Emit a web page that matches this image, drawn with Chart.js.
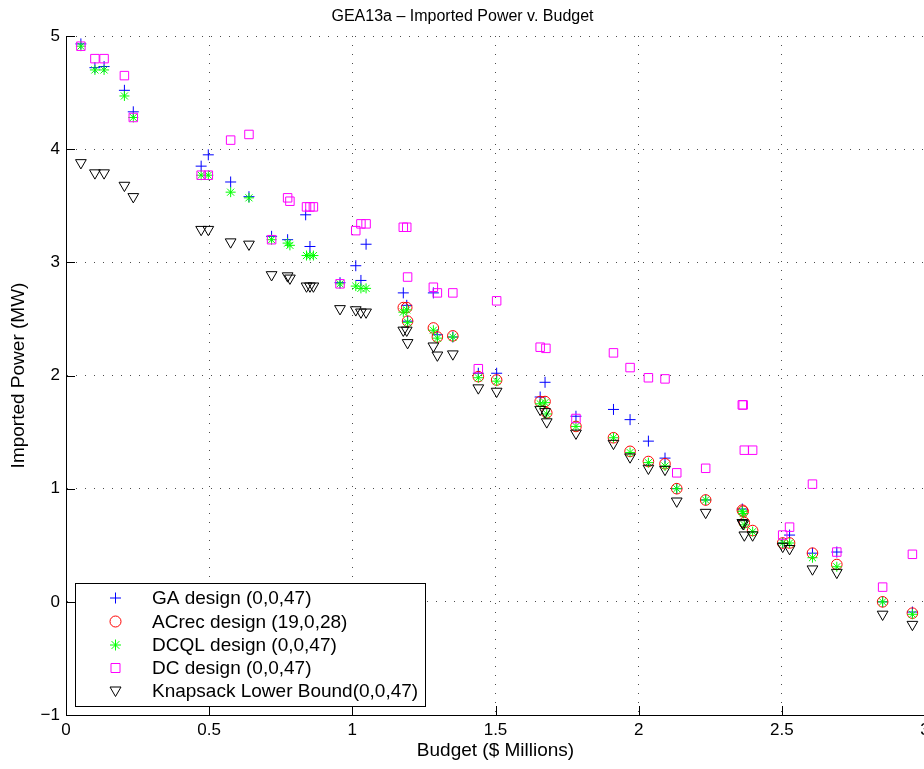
<!DOCTYPE html>
<html>
<head>
<meta charset="utf-8">
<title>GEA13a - Imported Power v. Budget</title>
<script src="https://cdn.jsdelivr.net/npm/chart.js@4.4.1/dist/chart.umd.min.js"></script>
<style>
    html, body { margin: 0; padding: 0; background: #fff; overflow: hidden; }
    #wrap { width: 940px; height: 769px; }
</style>
</head>
<body>
<div id="wrap"><canvas id="myChart" width="940" height="769"></canvas></div>
<script>
// data (budget in $ millions, power in MW)
const budgetAll = [0.052, 0.101, 0.133, 0.204, 0.235, 0.472, 0.497, 0.575, 0.639, 0.718,
    0.774, 0.782, 0.840, 0.852, 0.864, 0.957, 1.012, 1.030, 1.048, 1.178,
    1.190, 1.193, 1.283, 1.297, 1.351, 1.440, 1.504, 1.656, 1.673, 1.679,
    1.781, 1.912, 1.970, 2.034, 2.092, 2.133, 2.234, 2.362, 2.365, 2.369,
    2.398, 2.503, 2.527, 2.607, 2.692, 2.852, 2.956];

const gaBudget = [0.052, 0.101, 0.133, 0.204, 0.235, 0.472, 0.497, 0.575, 0.639, 0.718,
    0.774, 0.837, 0.852, 0.957, 1.012, 1.030, 1.048, 1.178, 1.190, 1.193,
    1.283, 1.297, 1.351, 1.440, 1.504, 1.656, 1.673, 1.781, 1.912, 1.970,
    2.034, 2.092, 2.133, 2.234, 2.362, 2.503, 2.527, 2.607, 2.692, 2.852, 2.956];
const gaPower = [4.93, 4.72, 4.73, 4.52, 4.33, 3.85, 3.95, 3.71, 3.58, 3.23,
    3.20, 3.42, 3.14, 2.82, 2.97, 2.84, 3.16, 2.73, 2.62, 2.48,
    2.73, 2.36, 2.34, 2.02, 2.02, 1.81, 1.94, 1.64, 1.70, 1.61,
    1.42, 1.27, 1.00, 0.90, 0.82, 0.52, 0.59, 0.43, 0.44, 0.00, -0.09];

const acrecBudget = [1.178, 1.190, 1.193, 1.283, 1.297, 1.351, 1.440, 1.504, 1.656, 1.673,
    1.679, 1.781, 1.912, 1.970, 2.034, 2.092, 2.133, 2.234, 2.362, 2.365,
    2.369, 2.398, 2.503, 2.527, 2.607, 2.692, 2.852, 2.956];
const acrecPower = [2.60, 2.60, 2.48, 2.42, 2.34, 2.35, 1.99, 1.96, 1.77, 1.77,
    1.67, 1.55, 1.45, 1.33, 1.24, 1.22, 1.00, 0.90, 0.81, 0.80,
    0.70, 0.63, 0.52, 0.52, 0.43, 0.33, 0.00, -0.10];

const dcqlPower = [4.91, 4.70, 4.70, 4.47, 4.28, 3.77, 3.77, 3.62, 3.57, 3.20,
    3.17, 3.15, 3.06, 3.06, 3.06, 2.81, 2.79, 2.77, 2.77, 2.56,
    2.58, 2.47, 2.40, 2.33, 2.34, 1.98, 1.95, 1.75, 1.76, 1.66,
    1.55, 1.45, 1.32, 1.23, 1.20, 1.00, 0.90, 0.80, 0.78, 0.68,
    0.62, 0.52, 0.52, 0.39, 0.31, 0.00, -0.11];

const dcBudget = [0.052, 0.101, 0.133, 0.204, 0.235, 0.472, 0.497, 0.575, 0.639, 0.718,
    0.774, 0.782, 0.840, 0.852, 0.864, 0.957, 1.012, 1.030, 1.048, 1.178,
    1.190, 1.193, 1.283, 1.297, 1.351, 1.440, 1.504, 1.656, 1.676, 1.781,
    1.912, 1.970, 2.034, 2.092, 2.133, 2.234, 2.362, 2.365, 2.369, 2.398,
    2.503, 2.527, 2.607, 2.692, 2.852, 2.956];
const dcPower = [4.91, 4.80, 4.80, 4.65, 4.28, 3.77, 3.77, 4.08, 4.13, 3.20,
    3.57, 3.54, 3.49, 3.49, 3.49, 2.81, 3.28, 3.34, 3.34, 3.31,
    3.31, 2.87, 2.78, 2.73, 2.73, 2.06, 2.66, 2.25, 2.24, 1.62,
    2.20, 2.07, 1.98, 1.97, 1.14, 1.18, 1.74, 1.74, 1.34, 1.34,
    0.59, 0.66, 1.04, 0.44, 0.13, 0.42];

const knapPower = [3.88, 3.79, 3.79, 3.68, 3.58, 3.29, 3.29, 3.18, 3.16, 2.89,
    2.88, 2.86, 2.79, 2.79, 2.79, 2.59, 2.58, 2.56, 2.56, 2.40,
    2.40, 2.29, 2.26, 2.18, 2.19, 1.89, 1.86, 1.70, 1.68, 1.59,
    1.49, 1.40, 1.28, 1.18, 1.17, 0.89, 0.79, 0.70, 0.69, 0.59,
    0.59, 0.49, 0.47, 0.29, 0.26, -0.11, -0.20];

const seriesNames = ['GA design (0,0,47)', 'ACrec design (19,0,28)', 'DCQL design (0,0,47)',
    'DC design (0,0,47)', 'Knapsack Lower Bound(0,0,47)'];

const xTicks = [0, 0.5, 1, 1.5, 2, 2.5, 3];
const yTicks = [-1, 0, 1, 2, 3, 4, 5];

const FONT = '"Liberation Sans", Arial, Helvetica, sans-serif';

function toPoints(xs, ys) {
    return xs.map((x, i) => ({x: x, y: ys[i]}));
}

// matlab style: ticks pointing into the plot
const innerTicks = {
    id: 'innerTicks',
    afterDraw(chart) {
        const c = chart.ctx;
        const a = chart.chartArea;
        const xs = chart.scales.x, ys = chart.scales.y;
        c.save();
        c.strokeStyle = '#000';
        c.lineWidth = 1;
        c.beginPath();
        xTicks.forEach(v => {
            const px = Math.round(xs.getPixelForValue(v)) + 0.5;
            c.moveTo(px, a.bottom);
            c.lineTo(px, a.bottom - 9);
        });
        yTicks.forEach(v => {
            const py = Math.round(ys.getPixelForValue(v)) + 0.5;
            c.moveTo(a.left, py);
            c.lineTo(a.left + 9, py);
        });
        c.stroke();
        c.restore();
    }
};

function legendMarker(c, i, x, y) {
    c.beginPath();
    if (i === 0) {
        c.strokeStyle = '#0000ff';
        c.moveTo(x - 5.5, y); c.lineTo(x + 5.5, y);
        c.moveTo(x, y - 5.5); c.lineTo(x, y + 5.5);
    } else if (i === 1) {
        c.strokeStyle = '#ff0000';
        c.arc(x, y, 5.5, 0, Math.PI * 2);
    } else if (i === 2) {
        c.strokeStyle = '#00ff00';
        for (let k = 0; k < 4; k++) {
            const r = k * Math.PI / 4;
            c.moveTo(x - 5.5 * Math.cos(r), y - 5.5 * Math.sin(r));
            c.lineTo(x + 5.5 * Math.cos(r), y + 5.5 * Math.sin(r));
        }
    } else if (i === 3) {
        c.strokeStyle = '#ff00ff';
        c.rect(x - 4.5, y - 4.5, 9, 9);
    } else {
        c.strokeStyle = '#000';
        c.moveTo(x - 5.5, y - 4); c.lineTo(x + 5.5, y - 4); c.lineTo(x, y + 5.5); c.closePath();
    }
    c.stroke();
}

// boxed legend in the lower left corner
const boxLegend = {
    id: 'boxLegend',
    afterDraw(chart) {
        const c = chart.ctx;
        c.save();
        c.fillStyle = '#fff';
        c.fillRect(75, 583, 350, 123);
        c.strokeStyle = '#000';
        c.lineWidth = 1;
        c.strokeRect(75.5, 583.5, 350, 123);
        const rows = [598, 621.5, 645, 668, 691];
        c.font = '19px ' + FONT;
        c.textBaseline = 'middle';
        c.textAlign = 'left';
        seriesNames.forEach((name, i) => {
            c.lineWidth = 1;
            legendMarker(c, i, 115.5, rows[i]);
            c.fillStyle = '#000';
            c.fillText(name, 152, rows[i] + 1);
        });
        c.restore();
    }
};

Chart.defaults.color = '#000';
Chart.defaults.font.family = FONT;

const ctx = document.getElementById('myChart').getContext('2d');
const myChart = new Chart(ctx, {
    type: 'scatter',
    data: {
        datasets: [
            {label: seriesNames[0], data: toPoints(gaBudget, gaPower), pointStyle: 'cross', pointRadius: 5.5,
             borderColor: '#0000ff', pointBorderColor: '#0000ff', backgroundColor: 'transparent', borderWidth: 1, order: 5},
            {label: seriesNames[1], data: toPoints(acrecBudget, acrecPower), pointStyle: 'circle', pointRadius: 5.3,
             borderColor: '#ff0000', backgroundColor: 'transparent', borderWidth: 1, order: 4},
            {label: seriesNames[2], data: toPoints(budgetAll, dcqlPower), pointStyle: 'star', pointRadius: 5,
             borderColor: '#00ff00', backgroundColor: 'transparent', borderWidth: 1, order: 3},
            {label: seriesNames[3], data: toPoints(dcBudget, dcPower), pointStyle: 'rect', pointRadius: 6,
             borderColor: '#ff00ff', backgroundColor: 'transparent', borderWidth: 1, order: 2},
            {label: seriesNames[4], data: toPoints(budgetAll, knapPower), pointStyle: 'triangle', pointRadius: 6.2,
             pointRotation: 180, borderColor: '#000', backgroundColor: 'transparent', borderWidth: 1, order: 1}
        ]
    },
    options: {
        responsive: false,
        animation: false,
        events: [],
        layout: {padding: {left: 0, right: 15, top: 0, bottom: 0}},
        plugins: {
            legend: {display: false},
            tooltip: {enabled: false},
            title: {
                display: true,
                text: 'GEA13a \u2013 Imported Power v. Budget',
                font: {size: 16, weight: 'normal', lineHeight: 1.2},
                padding: {top: 7, bottom: 9.8},
                color: '#000'
            }
        },
        scales: {
            x: {
                type: 'linear',
                min: 0, max: 3,
                afterFit: (s) => { s.height = 54; },
                afterBuildTicks: (s) => { s.ticks = xTicks.map(v => ({value: v})); },
                ticks: {font: {size: 17}, padding: 5, maxRotation: 0,
                        callback: (v) => String(v)},
                grid: {color: 'rgba(0,0,0,0.7)', drawTicks: false, lineWidth: 1},
                border: {display: true, color: '#000', width: 1, dash: [1, 8]},
                title: {display: true, text: 'Budget ($ Millions)', font: {size: 19}, padding: {top: 0, bottom: 7}}
            },
            y: {
                type: 'linear',
                min: -1, max: 5,
                afterFit: (s) => { s.width = 66; },
                afterBuildTicks: (s) => { s.ticks = yTicks.map(v => ({value: v})); },
                ticks: {font: {size: 17}, padding: 6,
                        callback: (v) => String(v).replace('-', '\u2212')},
                grid: {color: 'rgba(0,0,0,0.7)', drawTicks: false, lineWidth: 1},
                border: {display: true, color: '#000', width: 1, dash: [1, 8]},
                title: {display: true, text: 'Imported Power (MW)', font: {size: 19}, padding: {top: 7, bottom: 0}}
            }
        }
    },
    plugins: [innerTicks, boxLegend]
});
</script>
</body>
</html>
